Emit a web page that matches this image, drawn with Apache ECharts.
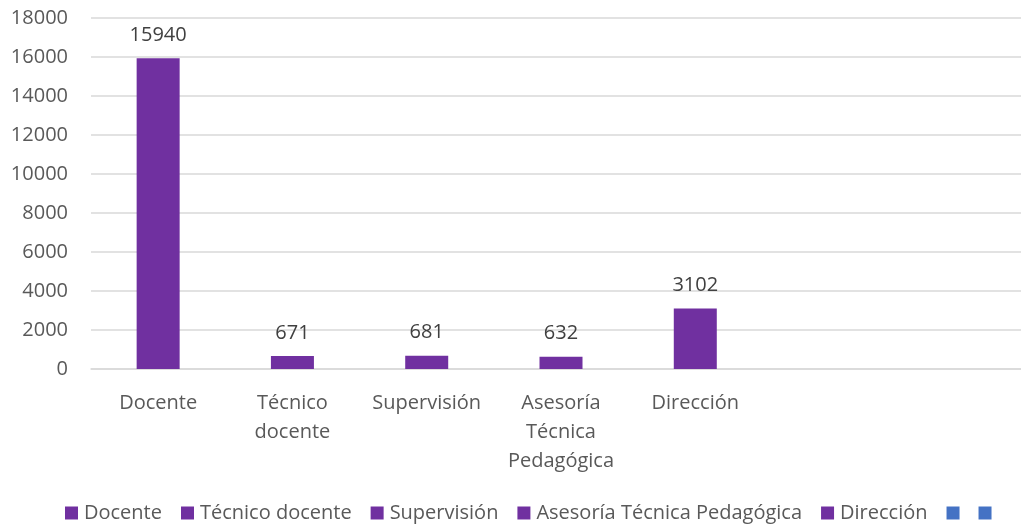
<!DOCTYPE html>
<html>
<head>
<meta charset="utf-8">
<script src="https://cdn.jsdelivr.net/npm/echarts@6/dist/echarts.min.js"></script>
<style>
  html, body { margin: 0; padding: 0; background: #fff; }
  #chart { width: 1021px; height: 524px; }
</style>
</head>
<body>
<div id="chart"></div>
<script>
// categories on the x axis (last two are empty in the source sheet)
const categories = ['Docente', 'Técnico\ndocente', 'Supervisión', 'Asesoría\nTécnica\nPedagógica', 'Dirección', '', ' '];
// one series per category, as in the original spreadsheet
const seriesNames = ['Docente', 'Técnico docente', 'Supervisión', 'Asesoría Técnica Pedagógica', 'Dirección', 'blank1', 'blank2'];
const values = [15940, 671, 681, 632, 3102, null, null];
const seriesColors = ['#7030A0', '#7030A0', '#7030A0', '#7030A0', '#7030A0', '#4472C4', '#4472C4'];

const FONT = 'Open Sans';
const chart = echarts.init(document.getElementById('chart'), null, { renderer: 'canvas' });

const series = seriesNames.map((name, i) => ({
    name: name,
    type: 'bar',
    stack: 'total',
    barWidth: 43,
    itemStyle: { color: seriesColors[i] },
    label: {
        show: true,
        position: 'top',
        distance: 13,
        color: '#404040',
        fontFamily: FONT,
        fontSize: 20,
    },
    data: categories.map((c, j) => (j === i && values[i] != null ? values[i] : '-')),
}));

chart.setOption({
    animation: false,
    // plot area runs past the right edge in the original, so don't clamp it
    grid: { left: 91, top: 18, width: 940, bottom: 155, outerBoundsMode: 'none' },
    legend: {
        data: seriesNames,
        top: 498,
        left: 60,
        icon: 'rect',
        itemWidth: 13,
        itemHeight: 13,
        itemGap: 19,
        formatter: (name) => (name.startsWith('blank') ? '' : name),
        textStyle: { color: '#595959', fontFamily: FONT, fontSize: 20, padding: [0, 0, 0, 1] },
    },
    xAxis: {
        type: 'category',
        data: categories,
        axisLine: { lineStyle: { color: '#d9d9d9', width: 1.5 } },
        axisTick: { show: false },
        axisLabel: {
            color: '#595959',
            fontFamily: FONT,
            fontSize: 20,
            lineHeight: 29,
            margin: 20,
            interval: 0,
        },
    },
    yAxis: {
        type: 'value',
        min: 0,
        max: 18000,
        interval: 2000,
        axisLine: { show: false },
        axisTick: { show: false },
        axisLabel: {
            color: '#595959',
            fontFamily: FONT,
            fontSize: 20,
            margin: 23,
            formatter: (v) => String(v),
        },
        splitLine: { lineStyle: { color: '#d9d9d9', width: 1.5 } },
    },
    series: series,
});
</script>
</body>
</html>
